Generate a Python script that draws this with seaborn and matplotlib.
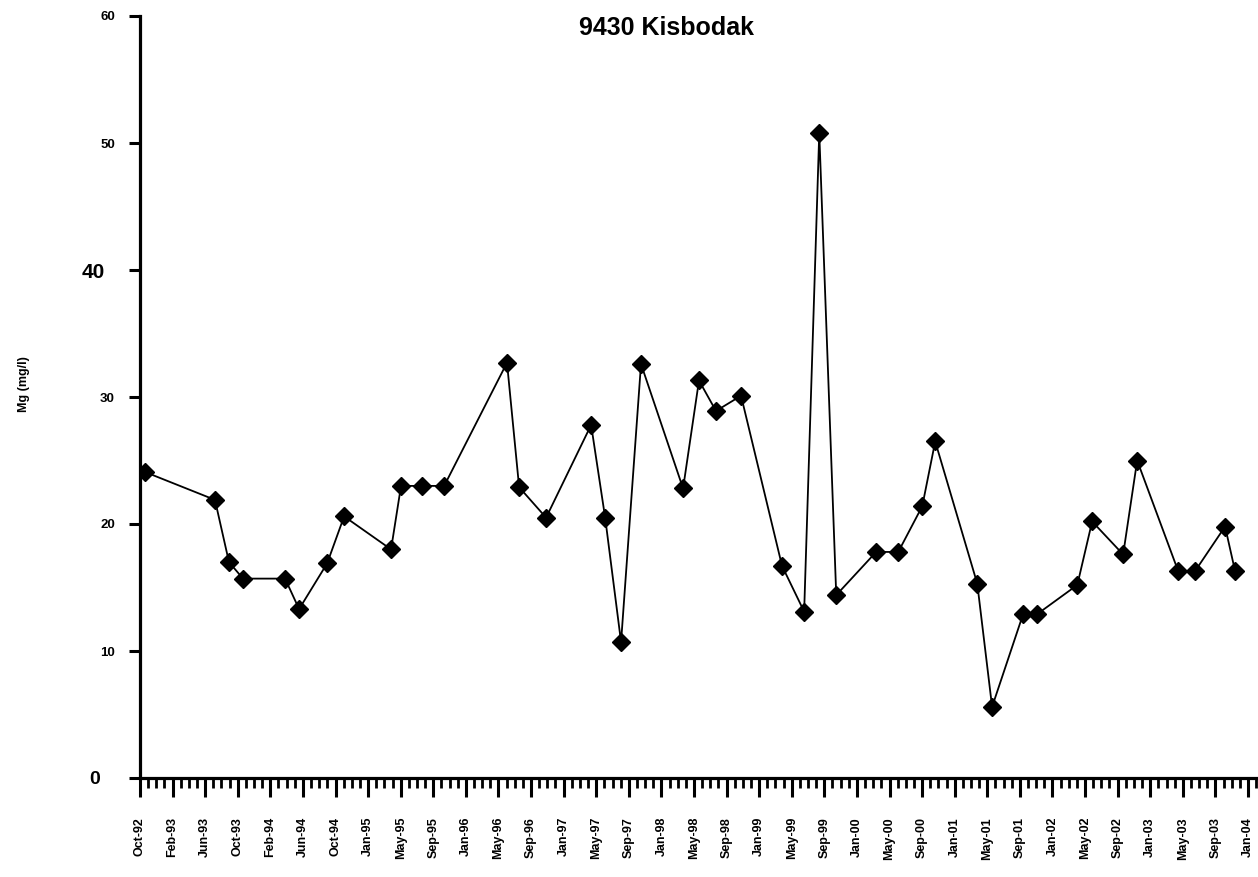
import numpy as np
import pandas as pd
import matplotlib
matplotlib.use("Agg")
import matplotlib.pyplot as plt
import matplotlib.dates as mdates
from matplotlib.ticker import FixedLocator
import seaborn as sns

# Sampling dates and magnesium concentrations at station 9430 Kisbodak
SAMPLE_DATES = [
    "1992-10-19", "1993-07-06", "1993-08-27", "1993-10-18", "1994-03-23",
    "1994-05-14", "1994-08-26", "1994-10-28", "1995-04-20", "1995-05-27",
    "1995-08-13", "1995-11-03", "1996-06-23", "1996-08-07", "1996-11-15",
    "1997-05-01", "1997-06-22", "1997-08-20", "1997-11-02", "1998-04-07",
    "1998-06-05", "1998-08-07", "1998-11-08", "1999-04-09", "1999-06-30",
    "1999-08-25", "1999-10-27", "2000-03-23", "2000-06-13", "2000-09-10",
    "2000-10-28", "2001-04-02", "2001-05-27", "2001-09-19", "2001-11-10",
    "2002-04-08", "2002-06-02", "2002-09-25", "2002-11-16", "2003-04-17",
    "2003-06-19", "2003-10-08", "2003-11-14",
]
MG_VALUES = [
    24.1, 21.9, 17.0, 15.7, 15.7,
    13.3, 16.9, 20.6, 18.0, 23.0,
    23.0, 23.0, 32.7, 22.9, 20.5,
    27.8, 20.5, 10.7, 32.6, 22.8,
    31.3, 28.9, 30.1, 16.7, 13.1,
    50.8, 14.4, 17.8, 17.8, 21.4,
    26.5, 15.3, 5.6, 12.9, 12.9,
    15.2, 20.2, 17.6, 25.0, 16.3,
    16.3, 19.8, 16.3,
]
X_TICK_LABELS = [
    "Oct-92", "Feb-93", "Jun-93", "Oct-93", "Feb-94", "Jun-94", "Oct-94",
    "Jan-95", "May-95", "Sep-95", "Jan-96", "May-96", "Sep-96", "Jan-97",
    "May-97", "Sep-97", "Jan-98", "May-98", "Sep-98", "Jan-99", "May-99",
    "Sep-99", "Jan-00", "May-00", "Sep-00", "Jan-01", "May-01", "Sep-01",
    "Jan-02", "May-02", "Sep-02", "Jan-03", "May-03", "Sep-03", "Jan-04",
]
Y_TICKS = [0, 10, 20, 30, 40, 50, 60]
AXIS_START = "1992-10-01"
AXIS_LAST_TICK = "2004-01-01"

sns.set_style("white")
plt.rcParams["font.family"] = ["Liberation Sans", "DejaVu Sans"]
plt.rcParams["text.color"] = "black"
plt.rcParams["xtick.color"] = "black"
plt.rcParams["ytick.color"] = "black"

df = pd.DataFrame({"date": pd.to_datetime(SAMPLE_DATES), "mg": MG_VALUES})

W, H = 1258, 877
fig = plt.figure(figsize=(W / 100, H / 100), dpi=100)
ax = fig.add_axes([140 / W, (H - 778) / H, (W - 140) / W, (778 - 16) / H])

sns.lineplot(data=df, x="date", y="mg", ax=ax, color="black", linewidth=1.3,
             marker="D", markersize=9, markerfacecolor="black",
             markeredgecolor="black", markeredgewidth=1.0)

# Evenly spaced date ticks, monthly-ish minor ticks between them
t0 = mdates.date2num(pd.Timestamp(AXIS_START))
t1 = mdates.date2num(pd.Timestamp(AXIS_LAST_TICK))
n = len(X_TICK_LABELS) - 1
step = (t1 - t0) / n
major = t0 + step * np.arange(n + 1)
minor = t0 + step / 4 * np.arange(4 * n + 4)
ax.xaxis.set_major_locator(FixedLocator(major))
ax.xaxis.set_minor_locator(FixedLocator(minor))
ax.set_xticklabels(X_TICK_LABELS, rotation=90, fontsize=9, fontweight="bold")
px_per_day = (1248 - 140) / (t1 - t0)
ax.set_xlim(t0, t0 + (W - 140) / px_per_day)

ax.set_ylim(0, 60)
ax.set_yticks(Y_TICKS)
ax.set_yticklabels([str(v) for v in Y_TICKS], fontweight="bold", fontsize=9.5)

ax.tick_params(axis="x", which="major", direction="out", length=14, width=2.2,
               color="black", labelcolor="black", pad=14, bottom=True)
ax.tick_params(axis="x", which="minor", direction="out", length=7, width=2.0,
               color="black", bottom=True)
ax.tick_params(axis="y", which="major", direction="out", length=8, width=2.2,
               color="black", labelcolor="black", pad=10, left=True)

# Some y labels are set larger than the rest
for tick, val in zip(ax.yaxis.get_major_ticks(), Y_TICKS):
    if val == 40:
        tick.label1.set_fontsize(15)
        tick.set_pad(17)
    elif val == 0:
        tick.label1.set_fontsize(14)
        tick.set_pad(21)

for side in ("top", "right"):
    ax.spines[side].set_visible(False)
for side in ("left", "bottom"):
    ax.spines[side].set_linewidth(2.3)
    ax.spines[side].set_color("black")

ax.set_xlabel("")
ax.set_ylabel("")
fig.text(24 / W, 1 - 384 / H, "Mg (mg/l)", rotation=90, ha="center",
         va="center", fontsize=9, fontweight="bold", color="black")
fig.text(667 / W, 1 - 28 / H, "9430 Kisbodak", ha="center", va="center",
         fontsize=18, fontweight="bold", color="black")

fig.savefig("out.png", dpi=100, facecolor="white")
